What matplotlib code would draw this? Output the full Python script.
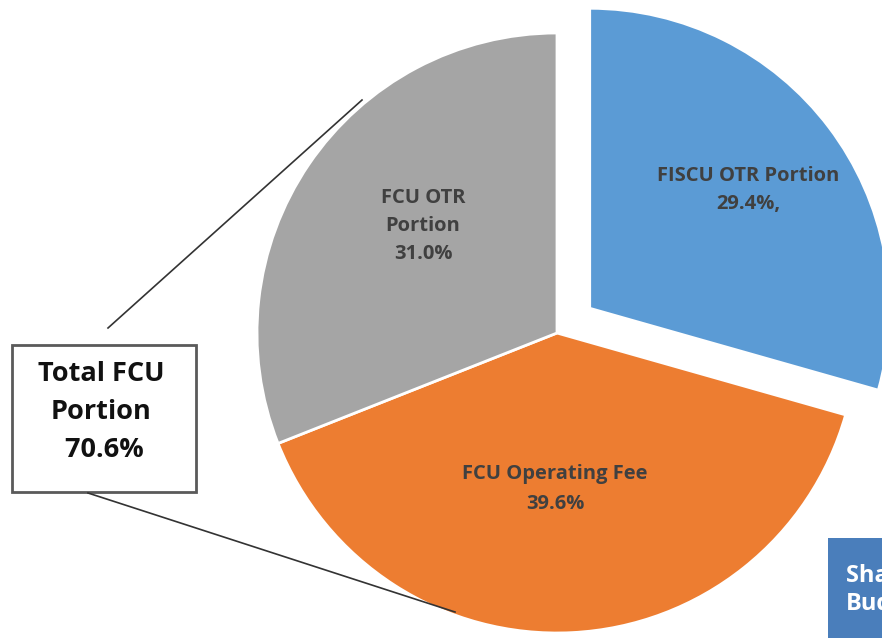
import matplotlib.pyplot as plt
from matplotlib.patches import Rectangle

# data
labels = ['FISCU OTR Portion\n29.4%,', 'FCU Operating Fee\n39.6%', 'FCU OTR\nPortion\n31.0%']
shares = [29.4, 39.6, 31.0]
colors = ['#5B9BD5', '#ED7D31', '#A5A5A5']
total_fcu = 70.6

W, H = 882, 638
fig = plt.figure(figsize=(W / 100, H / 100), dpi=100)
ax = fig.add_axes([0, 0, 1, 1])

# pixel-like data space, y measured from the top of the picture
cx, cy, r = 557, 333, 300
wedges, _ = ax.pie(shares, colors=colors, explode=[41, 0, 0], startangle=90,
                   counterclock=False, radius=r, center=(cx, H - cy), frame=True,
                   wedgeprops=dict(edgecolor='white', linewidth=2))
ax.set_xlim(0, W)
ax.set_ylim(0, H)
ax.set_aspect('equal')
ax.axis('off')

font = ['Open Sans', 'DejaVu Sans']
lab_color = '#404040'
ax.text(748, H - 190, labels[0], ha='center', va='center', fontsize=14.5,
        color=lab_color, fontweight='bold', family=font, linespacing=1.55)
ax.text(555, H - 489, labels[1], ha='center', va='center', fontsize=14.5,
        color=lab_color, fontweight='bold', family=font, linespacing=1.65)
ax.text(423, H - 226, labels[2], ha='center', va='center', fontsize=14.5,
        color=lab_color, fontweight='bold', family=font, linespacing=1.54)

# callout box for the two FCU slices
ax.add_patch(Rectangle((12, H - 492), 184, 147, facecolor='white',
                       edgecolor='#5a5a5a', linewidth=2))
ax.text(101, H - 412, f'Total FCU\nPortion\n {total_fcu}%', ha='center', va='center',
        fontsize=19.5, color='#111111', fontweight='bold', family=font, linespacing=1.58)
ax.plot([108, 362], [H - 328, H - 100], color='#333333', linewidth=1.2)
ax.plot([88, 455], [H - 493, H - 612], color='#333333', linewidth=1.2)

# cut-off blue note box at bottom right
ax.add_patch(Rectangle((828, 0), 60, H - 538, facecolor='#4A7EBB', edgecolor='none'))
ax.text(846, H - 590, 'Share of\nBudget', ha='left', va='center', fontsize=17,
        color='white', fontweight='bold', family=font, linespacing=1.25)

# title, mostly above the visible area
ax.text(700, H + 9, 'FY Operating Budget', ha='center', va='baseline', fontsize=24,
        color='#404040', family=font)

fig.savefig('out.png', dpi=100)
